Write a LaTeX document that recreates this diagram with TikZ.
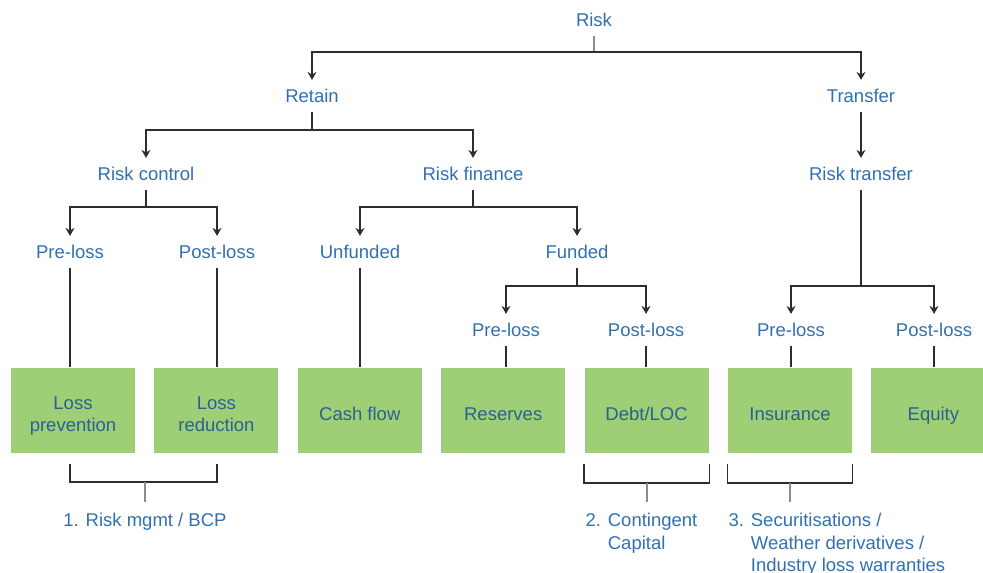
\documentclass[tikz,border=0pt]{standalone}
\usepackage{fontspec}
\setmainfont{Liberation Sans}
\usepackage{tikz}
\usetikzlibrary{arrows.meta,positioning}

\definecolor{riskblue}{RGB}{48,112,178}
\definecolor{boxblue}{RGB}{40,98,145}
\definecolor{boxgreen}{RGB}{158,206,118}
\definecolor{linegray}{RGB}{45,45,45}
\definecolor{stemgray}{RGB}{140,140,140}

\begin{document}
\begin{tikzpicture}[x=1pt,y=-1pt,>={Stealth[length=8pt,width=9pt]},
                    node distance=143.4pt,line width=1.2pt,color=linegray,
                    font=\fontsize{18.5}{22.5}\selectfont]
  \tikzstyle{lbl}=[text=riskblue,inner xsep=2pt,inner ysep=9pt,
                   text height=13pt,text depth=0pt]
  \tikzstyle{box}=[fill=boxgreen,minimum width=124pt,minimum height=85pt,
                   inner sep=0pt]
  \tikzstyle{boxtext}=[text=boxblue,align=center,text depth=4pt,yshift=-5.5pt]
  \tikzstyle{note}=[text=riskblue,inner sep=0pt]

  \useasboundingbox (0,0) rectangle (983,573);
  \clip (0,0) rectangle (983,573);

  % labels of the tree
  \node[lbl] (risk)      at (594,20)  {Risk};
  \node[lbl] (retain)    at (312,96)  {Retain};
  \node[lbl] (transfer)  at (861,96)  {Transfer};
  \node[lbl] (rcontrol)  at (146,174) {Risk control};
  \node[lbl] (rfinance)  at (473,174) {Risk finance};
  \node[lbl] (rtransfer) at (861,174) {Risk transfer};
  \node[lbl] (pre1)      at (70,252)  {Pre-loss};
  \node[lbl] (post1)     at (217,252) {Post-loss};
  \node[lbl] (unfunded)  at (360,252) {Unfunded};
  \node[lbl] (funded)    at (577,252) {Funded};
  \node[lbl] (pre2)      at (506,330) {Pre-loss};
  \node[lbl] (post2)     at (646,330) {Post-loss};
  \node[lbl] (pre3)      at (791,330) {Pre-loss};
  \node[lbl] (post3)     at (934,330) {Post-loss};

  % green boxes
  \node[box,label={[boxtext]center:{Loss\\prevention}}] (b1) at (73,410.5) {};
  \node[box,label={[boxtext]center:{Loss\\reduction}}]  (b2) [right of=b1] {};
  \node[box,label={[boxtext]center:Cash flow}]         (b3) [right of=b2] {};
  \node[box,label={[boxtext]center:Reserves}]          (b4) [right of=b3] {};
  \node[box,label={[boxtext]center:Debt/LOC}]          (b5) [right of=b4] {};
  \node[box,label={[boxtext]center:Insurance}]         (b6) [right of=b5] {};
  \node[box,label={[boxtext]center:Equity}]            (b7) [right of=b6] {};

  % footnotes
  \node[note,anchor=north] (note1) at (145,510.3)
       {\begin{tabular}{@{}l@{ }l@{}}1.&Risk mgmt / BCP\end{tabular}};
  \node[note,anchor=north west] (note2) at (585,510.3)
       {\begin{tabular}{@{}l@{ }l@{}}2.&Contingent\\&Capital\end{tabular}};
  \node[note,anchor=north west] (note3) at (728,510.3)
       {\begin{tabular}{@{}l@{ }l@{}}3.&Securitisations /\\&Weather derivatives /\\&Industry loss warranties\end{tabular}};

  % branches
  \coordinate (j0) at (594,52);
  \coordinate (j1) at (312,130);
  \coordinate (j2) at (146,207);
  \coordinate (j3) at (473,207);
  \coordinate (j4) at (577,286);
  \coordinate (j5) at (861,286);

  \draw[stemgray] (risk) -- (j0);
  \draw[->] (j0) -| (retain);
  \draw[->] (j0) -| (transfer);
  \draw (retain) -- (j1);
  \draw[->] (j1) -| (rcontrol);
  \draw[->] (j1) -| (rfinance);
  \draw[->] (transfer) -- (rtransfer);
  \draw (rcontrol) -- (j2);
  \draw[->] (j2) -| (pre1);
  \draw[->] (j2) -| (post1);
  \draw (rfinance) -- (j3);
  \draw[->] (j3) -| (unfunded);
  \draw[->] (j3) -| (funded);
  \draw (funded) -- (j4);
  \draw[->] (j4) -| (pre2);
  \draw[->] (j4) -| (post2);
  \draw (rtransfer) -- (j5);
  \draw[->] (j5) -| (pre3);
  \draw[->] (j5) -| (post3);

  % down to the boxes
  \draw (pre1)     -- (pre1 |- b1.north);
  \draw (post1)    -- (post1 |- b2.north);
  \draw (unfunded) -- (unfunded |- b3.north);
  \draw (pre2)     -- (pre2 |- b4.north);
  \draw (post2)    -- (post2 |- b5.north);
  \draw (pre3)     -- (pre3 |- b6.north);
  \draw (post3)    -- (post3 |- b7.north);

  % brackets under the boxes
  \coordinate (k1) at (145,482);
  \coordinate (k2) at (647,483);
  \coordinate (k3) at (790,483);
  \draw ([yshift=-10pt]pre1 |- b1.south) |- (k1) -| ([yshift=-10pt]post1 |- b2.south);
  \draw ([yshift=-10pt]b5.south west) |- (k2) -| ([yshift=-10pt]b5.south east);
  \draw ([yshift=-10pt]b6.south west) |- (k3) -| ([yshift=-10pt]b6.south east);
  \draw[stemgray,shorten >=8pt] (k1) -- (k1 |- note1.north);
  \draw[stemgray,shorten >=8pt] (k2) -- (k2 |- note2.north);
  \draw[stemgray,shorten >=8pt] (k3) -- (k3 |- note3.north);
\end{tikzpicture}
\end{document}
